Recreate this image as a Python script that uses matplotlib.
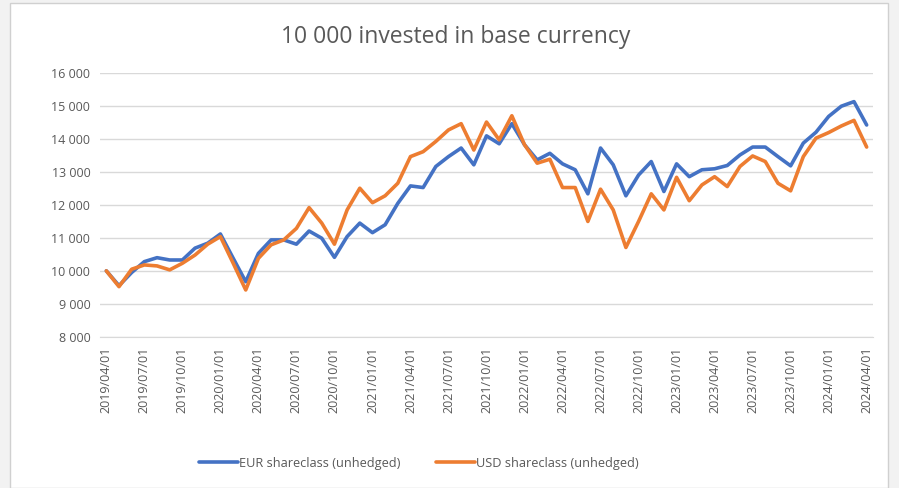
import matplotlib
matplotlib.use("Agg")
import matplotlib.pyplot as plt
from matplotlib.patches import Rectangle
import pandas as pd

dates = pd.date_range("2019-04-01", "2024-04-01", freq="MS")
labels = [d.strftime("%Y/%m/%d") for d in dates]

eur = [10000, 9550, 9950, 10280, 10400, 10330, 10330, 10690, 10840, 11120,
       10390, 9670, 10530, 10940, 10940, 10810, 11210, 10990, 10410, 11040,
       11450, 11160, 11400, 12050, 12580, 12530, 13170, 13470, 13730, 13220,
       14100, 13860, 14470, 13830, 13370, 13570, 13250, 13070, 12340, 13730,
       13220, 12280, 12910, 13320, 12410, 13250, 12860, 13070, 13100, 13200,
       13520, 13760, 13760, 13470, 13190, 13880, 14210, 14690, 15000, 15140,
       14430]
usd = [10000, 9520, 10050, 10180, 10150, 10030, 10230, 10480, 10810, 11040,
       10240, 9420, 10380, 10790, 10940, 11290, 11920, 11450, 10810, 11850,
       12510, 12070, 12280, 12660, 13470, 13620, 13930, 14280, 14470, 13670,
       14520, 13980, 14710, 13830, 13270, 13390, 12530, 12530, 11500, 12480,
       11850, 10710, 11500, 12340, 11850, 12840, 12130, 12610, 12860, 12560,
       13170, 13490, 13320, 12660, 12430, 13470, 14030, 14200, 14400, 14570,
       13760]

yticks = list(range(8000, 16001, 1000))
ytick_labels = [f"{v:,}".replace(",", " ") for v in yticks]

plt.rcParams['font.family'] = ['Open Sans', 'DejaVu Sans']

fig = plt.figure(figsize=(8.99, 4.88), dpi=100)
fig.patch.set_facecolor("#F2F2F2")
fig.patches.append(Rectangle((10/899, 0), 878/899, 1 - 3/488, transform=fig.transFigure,
                             facecolor="white", edgecolor="#D0D0D0", lw=1, zorder=-10))

ax = fig.add_axes([100/899, 1 - 336.7/488, 773/899, (336.7 - 73.3)/488])
ax.set_facecolor("none")
x = list(range(len(dates)))
ax.plot(x, eur, color="#4472C4", lw=2.6, label="EUR shareclass (unhedged)", solid_capstyle="round", zorder=3)
ax.plot(x, usd, color="#ED7D31", lw=2.6, label="USD shareclass (unhedged)", solid_capstyle="round", zorder=3)

ax.set_xlim(-0.5, len(dates) - 0.5)
ax.set_ylim(8000, 16000)
ax.set_yticks(yticks)
ax.set_yticklabels(ytick_labels, fontsize=9, color="#595959")
ax.set_xticks(x[::3])
ax.set_xticklabels(labels[::3], rotation=90, fontsize=9, color="#595959")
ax.tick_params(length=0, pad=7)
ax.grid(axis="y", color="#D9D9D9", lw=1)
for s in ["top", "right", "left"]:
    ax.spines[s].set_visible(False)
ax.spines["bottom"].set_color("#D9D9D9")

fig.text(456/899, 1 - 37/488, "10 000 invested in base currency", ha="center", va="center",
         fontsize=16.5, color="#595959")
fig.legend(loc="center", bbox_to_anchor=(419/899, 1 - 463/488), ncol=2, frameon=False,
           fontsize=9.2, labelcolor="#595959", handlelength=3.0, handletextpad=0.1, columnspacing=2.8)

fig.savefig("out.png", dpi=100)
